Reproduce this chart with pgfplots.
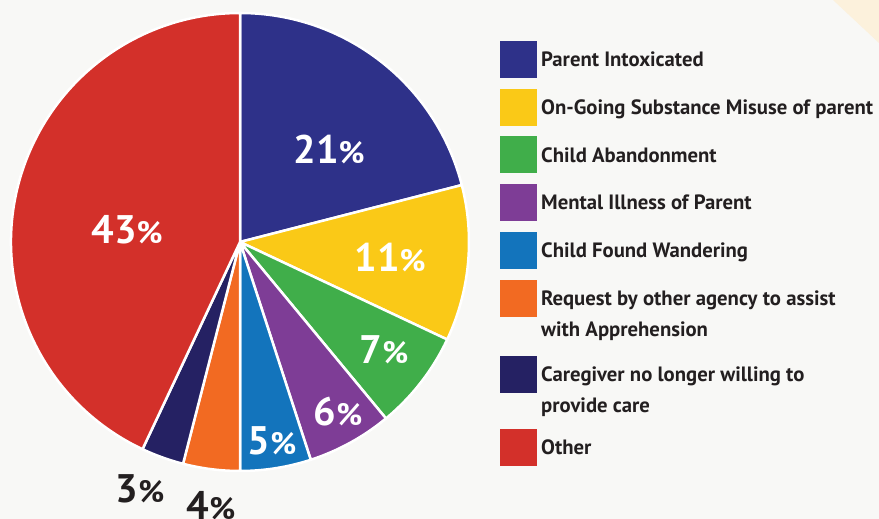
\documentclass[border=0pt]{standalone}
\usepackage{pgfplots}
\usepackage{pgfplotstable}
\pgfplotsset{compat=1.18}
\usepackage{fontspec}
\setmainfont{PT Sans}

\definecolor{bg}{HTML}{F8F8F6}
\definecolor{cream}{HTML}{FCF1DC}
\definecolor{c0}{HTML}{2E3189}
\definecolor{c1}{HTML}{FAC917}
\definecolor{c2}{HTML}{40AE4A}
\definecolor{c3}{HTML}{7E3D96}
\definecolor{c4}{HTML}{1374BC}
\definecolor{c5}{HTML}{F26A22}
\definecolor{c6}{HTML}{252163}
\definecolor{c7}{HTML}{D3302A}
\definecolor{txt}{HTML}{231F20}

% share of each reason, clockwise from the top
\pgfplotstableread{
pct
21
11
7
6
5
4
3
43
}\piedata

\newcommand{\pct}[3][40]{%
  {\fontsize{#1}{#1}\selectfont\bfseries #2}{\fontsize{#3}{#3}\selectfont\bfseries\%}}

\begin{document}
\begin{tikzpicture}
% slice start/end angles from the table
\gdef\acc{90}
\foreach \i in {0,...,7} {
  \pgfplotstablegetelem{\i}{pct}\of\piedata
  \pgfmathsetmacro\e{\acc-3.6*\pgfplotsretval}
  \expandafter\xdef\csname sa\i\endcsname{\acc}
  \expandafter\xdef\csname ea\i\endcsname{\e}
  \xdef\acc{\e}
}
\begin{axis}[
    x=1bp, y=1bp,
    xmin=0, xmax=879, ymin=0, ymax=519,
    hide axis, clip=false,
]
  \addplot[fill=bg, draw=none] coordinates {(0,0) (879,0) (879,519) (0,519)};
  \addplot[fill=cream, draw=none] coordinates {(833,519) (879,519) (879,476)};

  \pgfplotsinvokeforeach{0,...,7}{
    \fill[c#1, draw=white, line width=2.5bp, line join=round]
      (axis cs:240,277) -- ++(\csname sa#1\endcsname:229bp)
      arc[start angle=\csname sa#1\endcsname, end angle=\csname ea#1\endcsname, radius=229bp]
      -- cycle;
  }

  % legend boxes
  \addplot[only marks, mark=square*, mark size=18bp, c0] coordinates {(518,460)};
  \addplot[only marks, mark=square*, mark size=18bp, c1] coordinates {(518,412)};
  \addplot[only marks, mark=square*, mark size=18bp, c2] coordinates {(518,365)};
  \addplot[only marks, mark=square*, mark size=18bp, c3] coordinates {(518,317)};
  \addplot[only marks, mark=square*, mark size=18bp, c4] coordinates {(518,269)};
  \addplot[only marks, mark=square*, mark size=18bp, c5] coordinates {(518,221)};
  \addplot[only marks, mark=square*, mark size=18bp, c6] coordinates {(518,145)};
  \addplot[only marks, mark=square*, mark size=18bp, c7] coordinates {(518,72)};

  \begin{scope}[every node/.style={anchor=base west, inner sep=0pt, text=txt,
      font=\fontsize{20.8}{20.8}\selectfont\bfseries}]
    \node at (axis cs:541,452.5) {Parent Intoxicated};
    \node at (axis cs:541,404) {On-Going Substance Misuse of parent};
    \node at (axis cs:541,356.7) {Child Abandonment};
    \node at (axis cs:541,309) {Mental Illness of Parent};
    \node at (axis cs:541,261.7) {Child Found Wandering};
    \node at (axis cs:541,213) {Request by other agency to assist};
    \node at (axis cs:541,182.3) {with Apprehension};
    \node at (axis cs:541,137.3) {Caregiver no longer willing to};
    \node at (axis cs:541,106.3) {provide care};
    \node at (axis cs:541,64.7) {Other};
  \end{scope}

  \begin{scope}[every node/.style={inner sep=0pt, text=white}]
    \node at (axis cs:329,370) {\pct{21}{31}};
    \node at (axis cs:390,261) {\pct{11}{31}};
    \node at (axis cs:127,289) {\pct{43}{31}};
    \node at (axis cs:384,169) {\pct{7}{31}};
    \node at (axis cs:338,107) {\pct{6}{31}};
    \node at (axis cs:272,78) {\pct{5}{31}};
    \node[text=txt] at (axis cs:140,30) {\pct{3}{31}};
    \node[text=txt] at (axis cs:211,13) {\pct{4}{31}};
  \end{scope}
\end{axis}
\pgfresetboundingbox
\useasboundingbox (current axis.south west) rectangle (current axis.north east);
\end{tikzpicture}
\end{document}
